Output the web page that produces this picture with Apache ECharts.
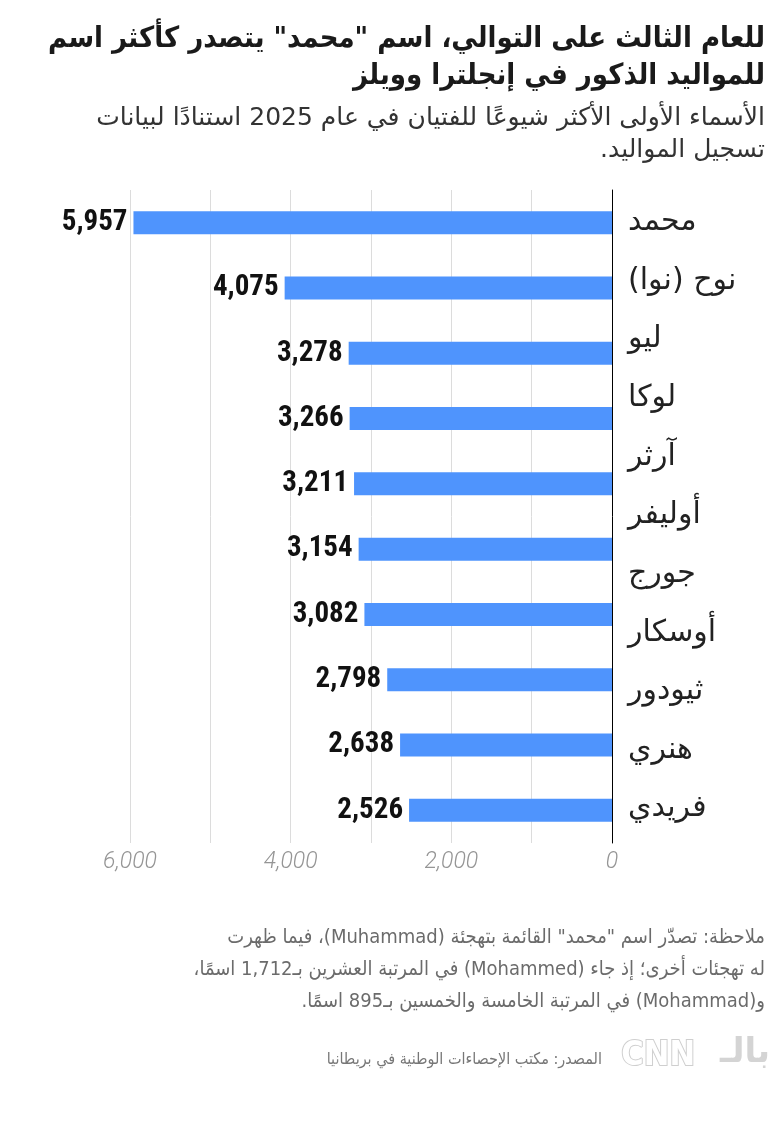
<!DOCTYPE html>
<html lang="ar">
<head>
<meta charset="utf-8">
<script src="https://cdn.jsdelivr.net/npm/echarts@6/dist/echarts.min.js"></script>
<style>
  html, body { margin: 0; padding: 0; background: #fff; }
  #chart { width: 780px; height: 1132px; direction: rtl; }
</style>
</head>
<body>
<div id="chart" dir="rtl"></div>
<script>
// ---- data ----
const names = ['محمد', 'نوح (نوا)', 'ليو', 'لوكا', 'آرثر', 'أوليفر', 'جورج', 'أوسكار', 'ثيودور', 'هنري', 'فريدي'];
const values = [5957, 4075, 3278, 3266, 3211, 3154, 3082, 2798, 2638, 2526];
const xLabelTicks = [0, 2000, 4000, 6000];

const titleLines = ['للعام الثالث على التوالي، اسم "محمد" يتصدر كأكثر اسم', 'للمواليد الذكور في إنجلترا وويلز'];
const subtitleLines = ['الأسماء الأولى الأكثر شيوعًا للفتيان في عام 2025 استنادًا لبيانات', 'تسجيل المواليد.'];
const noteLines = [
  'ملاحظة: تصدّر اسم "محمد" القائمة بتهجئة (Muhammad)، فيما ظهرت',
  'له تهجئات أخرى؛ إذ جاء (Mohammed) في المرتبة العشرين بـ1,712 اسمًا،',
  'و(Mohammad) في المرتبة الخامسة والخمسين بـ895 اسمًا.'
];
const sourceText = 'المصدر: مكتب الإحصاءات الوطنية في بريطانيا';

const arCond = "'DejaVu Sans Condensed', 'DejaVu Sans', sans-serif";
const arFont = "'DejaVu Sans', sans-serif";
const numFont = "'Liberation Sans Narrow', 'Roboto Condensed', 'DejaVu Sans Condensed', sans-serif";

const chart = echarts.init(document.getElementById('chart'), null, { renderer: 'canvas' });
const fmt = v => v.toLocaleString('en-US');

const titles = [];
titleLines.forEach((t, i) => titles.push({ text: t, right: 10, top: 20 + i * 37,
  textStyle: { fontFamily: arCond, fontSize: 29, fontWeight: 'bold', color: '#1a1a1a' } }));
subtitleLines.forEach((t, i) => titles.push({ text: t, right: 10, top: 101 + i * 32,
  textStyle: { fontFamily: arFont, fontSize: 25, fontWeight: 'normal', color: '#333333' } }));
noteLines.forEach((t, i) => titles.push({ text: t, right: 10, top: 923 + i * 32,
  textStyle: { fontFamily: arCond, fontSize: 20, fontWeight: 'normal', color: '#6b6b6b' } }));
titles.push({ text: sourceText, right: 173, top: 1047,
  textStyle: { fontFamily: arCond, fontSize: 16, fontWeight: 'normal', color: '#777777' } });

chart.setOption({
  backgroundColor: '#ffffff',
  animation: false,
  title: titles,
  grid: [
    { left: 130, right: 168, top: 190, height: 653, containLabel: false },
    { left: 130, right: 168, top: 193, height: 645, containLabel: false }
  ],
  xAxis: [
    { gridIndex: 0, type: 'value', inverse: true, min: 0, max: 6000, interval: 1000,
      axisLine: { show: false }, axisTick: { show: false },
      splitLine: { show: true, lineStyle: { color: '#dcdcdc', width: 1 } },
      axisLabel: { margin: 8, color: '#959595', fontSize: 23, fontStyle: 'italic', fontWeight: 300, fontFamily: 'Roboto, sans-serif',
        formatter: v => (xLabelTicks.indexOf(v) >= 0 ? fmt(v) : '') } },
    { gridIndex: 1, type: 'value', show: false, min: 0, max: 6000 }
  ],
  yAxis: [
    { gridIndex: 0, type: 'category', inverse: true, position: 'right',
      data: names.slice(0, values.length),
      axisLine: { show: true, lineStyle: { color: '#000000', width: 1 } },
      axisTick: { show: false }, axisLabel: { show: false }, splitLine: { show: false } },
    { gridIndex: 1, type: 'category', inverse: true, position: 'right',
      data: names,
      axisLine: { show: false }, axisTick: { show: false }, splitLine: { show: false },
      axisLabel: { margin: 16, color: '#222222', fontSize: 30, fontFamily: arFont, align: 'left' } }
  ],
  series: [
    { type: 'bar', xAxisIndex: 0, yAxisIndex: 0, data: values, barWidth: 23,
      itemStyle: { color: '#4f94fd' },
      label: { show: true, position: 'left', distance: 6, formatter: p => fmt(p.value),
        fontFamily: numFont, fontWeight: 'bold', fontSize: 29, color: '#111111' } }
  ],
  graphic: [
    { type: 'text', right: 84, top: 1038,
      style: { text: 'CNN', fontFamily: 'DejaVu Sans Condensed, sans-serif', fontSize: 34, fontWeight: 'bold',
        fill: '#ffffff', stroke: '#cfcfcf', lineWidth: 2 } },
    { type: 'text', right: 10, top: 1036,
      style: { text: 'بالـ', fontFamily: arFont, fontSize: 34, fontWeight: 'bold', fill: '#d4d4d4' } }
  ]
});
</script>
</body>
</html>
